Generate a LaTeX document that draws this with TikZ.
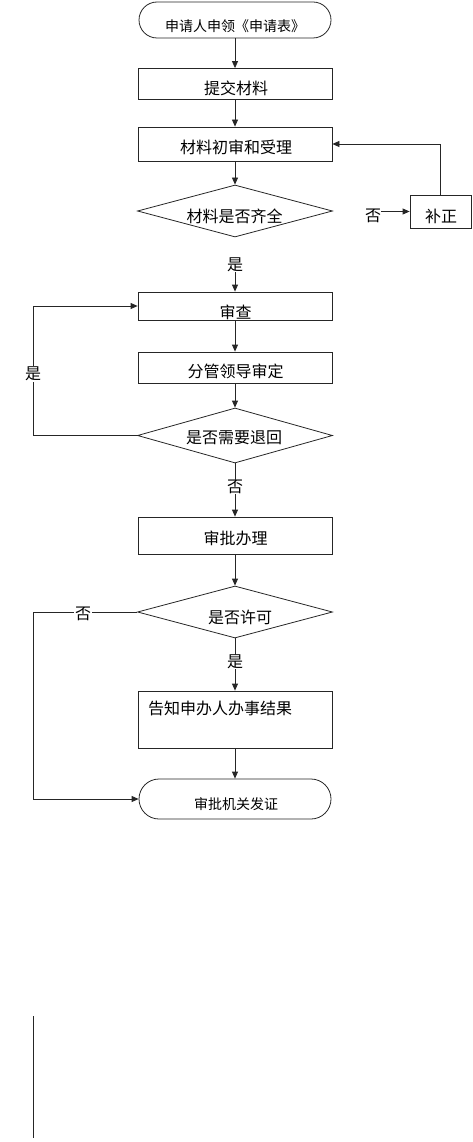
\documentclass[tikz,border=0pt]{standalone}
\usepackage{fontspec}
\setmainfont{Noto Sans CJK SC}
\usetikzlibrary{shapes.geometric,shapes.misc,arrows.meta}
\begin{document}
\begin{tikzpicture}[x=1pt,y=-1pt,
  line/.style={draw=black!85,line width=0.8pt},
  arr/.style={line,-{Triangle[length=7pt,width=6pt]}},
  procbox/.style={draw=black!85,line width=0.8pt,rectangle,minimum width=194pt,inner sep=0pt},
  termbox/.style={draw=black!85,line width=0.8pt,rounded rectangle,minimum width=192pt,inner sep=0pt},
  decbox/.style={draw=black!85,line width=0.8pt,diamond,minimum width=195pt,minimum height=52pt,inner sep=0pt},
  txt/.style={inner sep=0pt,font=\fontsize{16}{19}\selectfont},
  smalltxt/.style={inner sep=0pt,font=\fontsize{14}{17}\selectfont},
  lbl/.style={inner sep=1pt,fill=white,font=\fontsize{16}{19}\selectfont}]
\useasboundingbox (0,0) rectangle (473,1142);
% shapes
\node[termbox,minimum height=36pt] (start) at (235,20) {};
\node[smalltxt] (tstart) at (235,26) {申请人申领《申请表》};
\node[procbox,minimum height=31pt] (b1) at (235,84) {};
\node[txt] (tb1) at (236,88) {提交材料};
\node[procbox,minimum height=34pt] (b2) at (235,144) {};
\node[txt] (tb2) at (236,147) {材料初审和受理};
\node[decbox] (d1) at (235,211) {};
\node[txt] (td1) at (234.5,216) {材料是否齐全};
\node[draw=black!85,line width=0.8pt,minimum width=61pt,minimum height=33pt,inner sep=0pt] (fix) at (440.5,211.5) {};
\node[txt] (tfix) at (441,216) {补正};
\node[txt] (no1) at (373,216) {否};
\node[txt] (yes1) at (235,265) {是};
\node[procbox,minimum height=28pt] (r1) at (235,306) {};
\node[txt] (tr1) at (235.5,312) {审查};
\node[procbox,minimum height=31pt] (r2) at (235,367.5) {};
\node[txt] (tr2) at (235.5,371) {分管领导审定};
\node[decbox,minimum height=55pt] (d2) at (235,435.5) {};
\node[txt] (td2) at (234,438) {是否需要退回};
\node[txt] (no2) at (235,487) {否};
\node[procbox,minimum height=37pt] (a1) at (235,535.5) {};
\node[txt] (ta1) at (235.5,538) {审批办理};
\node[decbox] (d3) at (235,612) {};
\node[txt] (td3) at (240,617) {是否许可};
\node[txt] (yes3) at (235,662) {是};
\node[procbox,minimum height=57pt] (n1) at (235,719.5) {};
\node[txt,anchor=west] (tn1) at (148,708) {告知申办人办事结果};
\node[termbox,minimum height=40pt] (end) at (235,799) {};
\node[smalltxt] (tend) at (236,804) {审批机关发证};
% connectors
\draw[arr] (start) -- (b1);
\draw[arr] (b1) -- (b2);
\draw[arr] (b2.south) -- (d1.north);
\draw[arr] (no1.east |- fix.west) -- (fix.west);
\draw[arr] (fix.north) |- (b2.east);
\draw[arr] (yes1.south) -- (r1.north);
\draw[arr] (r1) -- (r2);
\draw[arr] (r2.south) -- (d2.north);
\coordinate (c1) at (33,435.5);
\coordinate (c2) at (33,306);
\draw[arr] (d2.west) -- (c1) -- (c2) -- (r1.west);
\node[lbl] (yes2) at (33,374) {是};
\draw[line] (d2.south) -- (no2.north);
\draw[arr] (no2.south) -- (a1.north);
\draw[arr] (a1.south) -- (d3.north);
\draw[line] (d3.south) -- (yes3.north);
\draw[arr] (yes3.south) -- (n1.north);
\draw[arr] (n1.south) -- (end.north);
\coordinate (c3) at (33,612);
\coordinate (c4) at (33,799);
\draw[arr] (d3.west) -- (c3) -- (c4) -- (end.west);
\node[lbl] (no3) at (83,614) {否};
\coordinate (v1) at (33,1016);
\coordinate (v2) at (33,1138);
\draw[line] (v1) -- (v2);
\end{tikzpicture}
\end{document}
